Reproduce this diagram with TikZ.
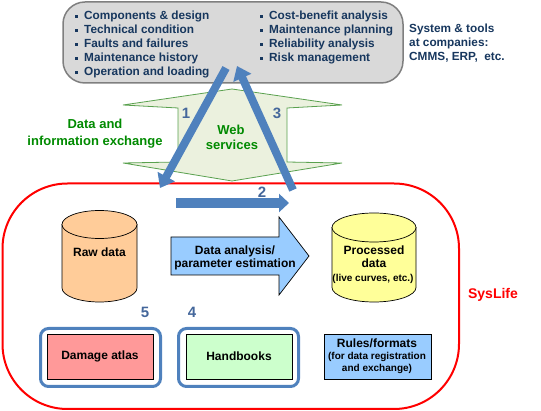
\documentclass[tikz,border=0pt]{standalone}
\usepackage{fontspec}
\setmainfont{Liberation Sans}
\usetikzlibrary{arrows.meta}
\definecolor{navy}{HTML}{17375E}
\definecolor{arrowblue}{HTML}{4F81BD}
\definecolor{numblue}{HTML}{44679B}
\definecolor{gfill}{HTML}{EBF1DE}
\definecolor{gline}{HTML}{5AA14F}
\definecolor{gtext}{HTML}{008A00}
\definecolor{grayfill}{HTML}{D9D9D9}
\definecolor{grayline}{HTML}{7F7F7F}
\definecolor{rawfill}{HTML}{FFCC99}
\definecolor{procfill}{HTML}{FFFF99}
\definecolor{atlasfill}{HTML}{FF9999}
\definecolor{handfill}{HTML}{CCFFCC}
\definecolor{rulefill}{HTML}{99CCFF}
\definecolor{anafill}{HTML}{99CCFF}
\newcommand\sqbul{\makebox[9pt][l]{\raisebox{2.3pt}{\rule{3pt}{3pt}}}}
\begin{document}
\begin{tikzpicture}[x=1pt,y=-1pt,
  listtext/.style={anchor=base west, inner sep=0pt, text=navy, font=\fontsize{11.8}{14}\selectfont\bfseries},
  greentext/.style={anchor=base, inner sep=0pt, text=gtext, font=\fontsize{13}{14}\selectfont\bfseries},
  blacktext/.style={anchor=base, inner sep=0pt, text=black, font=\fontsize{12}{14}\selectfont\bfseries},
  smalltext/.style={anchor=base, inner sep=0pt, text=black, font=\fontsize{10}{11}\selectfont\bfseries},
  numtext/.style={anchor=base, inner sep=0pt, text=numblue, font=\fontsize{15}{15}\selectfont\bfseries},
  flow/.style={draw=arrowblue, line width=8pt, -{Triangle[width=19pt,length=13pt]}},
  infobox/.style={draw=black, line width=0.8pt, minimum width=106pt, minimum height=45pt, inner sep=0pt},
  framebox/.style={draw=arrowblue, line width=3pt, rounded corners=8pt, minimum width=120pt, minimum height=58pt, inner sep=0pt},
  cyl/.style={draw=black, line width=0.7pt}
]
\useasboundingbox (0,0) rectangle (541,411);

% top gray box
\node[draw=grayline, fill=grayfill, line width=1.5pt, rounded corners=22pt,
      minimum width=340pt, minimum height=81pt, inner sep=0pt] (sys) at (233,42.5) {};
\node[listtext] (l1) at (75,20) {\sqbul Components \& design};
\node[listtext] (l2) at (75,34) {\sqbul Technical condition};
\node[listtext] (l3) at (75,48) {\sqbul Faults and failures};
\node[listtext] (l4) at (75,62) {\sqbul Maintenance history};
\node[listtext] (l5) at (75,76) {\sqbul Operation and loading};
\node[listtext] (r1) at (260,20) {\sqbul Cost-benefit analysis};
\node[listtext] (r2) at (260,34) {\sqbul Maintenance planning};
\node[listtext] (r3) at (260,48) {\sqbul Reliability analysis};
\node[listtext] (r4) at (260,62) {\sqbul Risk management};
\node[listtext] (s1) at (409,33) {System \& tools};
\node[listtext] (s2) at (409,47) {at companies:};
\node[listtext] (s3) at (409,61) {CMMS, ERP,\ \ etc.};

% green double arrow
\draw[draw=gline, fill=gfill, line width=0.8pt]
  (232,89) -- (342,105) -- (287,108) -- (287,162) -- (342,163) -- (232,181)
  -- (123,163) -- (178,162) -- (178,108) -- (123,105) -- cycle;
\node[greentext] (d1) at (95,129) {Data and};
\node[greentext] (d2) at (95,145.5) {information exchange};
\node[greentext] (w1) at (231,135) {Web};
\node[greentext] (w2) at (232,150) {services};

% red SysLife frame
\node[draw=red, line width=2pt, rounded corners=65pt,
      minimum width=456.5pt, minimum height=225.5pt, inner sep=0pt] (syslife) at (230.75,296.25) {};
\node[anchor=base, inner sep=0pt, text=red, font=\fontsize{14}{14}\selectfont\bfseries] (sl) at (493,299) {SysLife};

% raw data cylinder
\draw[cyl, fill=rawfill] (62,224.5) -- (62,288) arc[start angle=180, end angle=360, x radius=37.5pt, y radius=14pt] -- (137,224.5) -- cycle;
\draw[cyl, fill=rawfill] (99.5,224.5) ellipse[x radius=37.5pt, y radius=14pt];
\node[blacktext] (raw) at (99.5,257) {Raw data};

% processed data cylinder
\draw[cyl, fill=procfill] (332,227.5) -- (332,287.5) arc[start angle=180, end angle=360, x radius=42pt, y radius=14.5pt] -- (416,227.5) -- cycle;
\draw[cyl, fill=procfill] (374,227.5) ellipse[x radius=42pt, y radius=14.5pt];
\node[blacktext] (p1) at (374,255) {Processed};
\node[blacktext] (p2) at (374,268) {data};
\node[smalltext] (p3) at (373,282) {(live curves, etc.)};

% analysis arrow
\draw[draw=black, line width=0.7pt, fill=anafill]
  (171,237) -- (279,237) -- (279,217) -- (309,256) -- (279,295) -- (279,275) -- (171,275) -- cycle;
\node[blacktext] (a1) at (235,255) {Data analysis/};
\node[blacktext] (a2) at (235,268) {parameter estimation};

% bottom boxes
\node[framebox] (f5) at (100.5,357.5) {};
\node[framebox] (f4) at (238.5,357.5) {};
\node[infobox, fill=atlasfill] (atlas) at (100,356.5) {};
\node[blacktext] (atlast) at (100,360) {Damage atlas};
\node[infobox, fill=handfill] (hand) at (239,356.5) {};
\node[blacktext] (handt) at (239,361) {Handbooks};
\node[infobox, fill=rulefill, minimum width=107pt] (rules) at (377.5,356.5) {};
\node[blacktext] (ru1) at (377,348) {Rules/formats};
\node[smalltext] (ru2) at (377,360) {(for data registration};
\node[smalltext] (ru3) at (377,372) {and exchange)};

% blue flow arrows
\coordinate (a1s) at (226,68);
\coordinate (a1e) at (160,188);
\coordinate (a3s) at (293,190);
\coordinate (a3e) at (237,66);
\coordinate (a2s) at (176,203);
\coordinate (a2e) at (289,203);
\draw[flow] (a1s) -- (a1e);
\draw[flow] (a3s) -- (a3e);
\draw[draw=arrowblue, line width=10pt, -{Triangle[width=18pt,length=10pt]}] (a2s) -- (a2e);

% numbers
\node[numtext] (n1) at (186,119) {1};
\node[numtext] (n3) at (277,119) {3};
\node[numtext] (n2) at (262,198) {2};
\node[numtext] (n5) at (145,318) {5};
\node[numtext] (n4) at (192,318) {4};
\end{tikzpicture}
\end{document}
